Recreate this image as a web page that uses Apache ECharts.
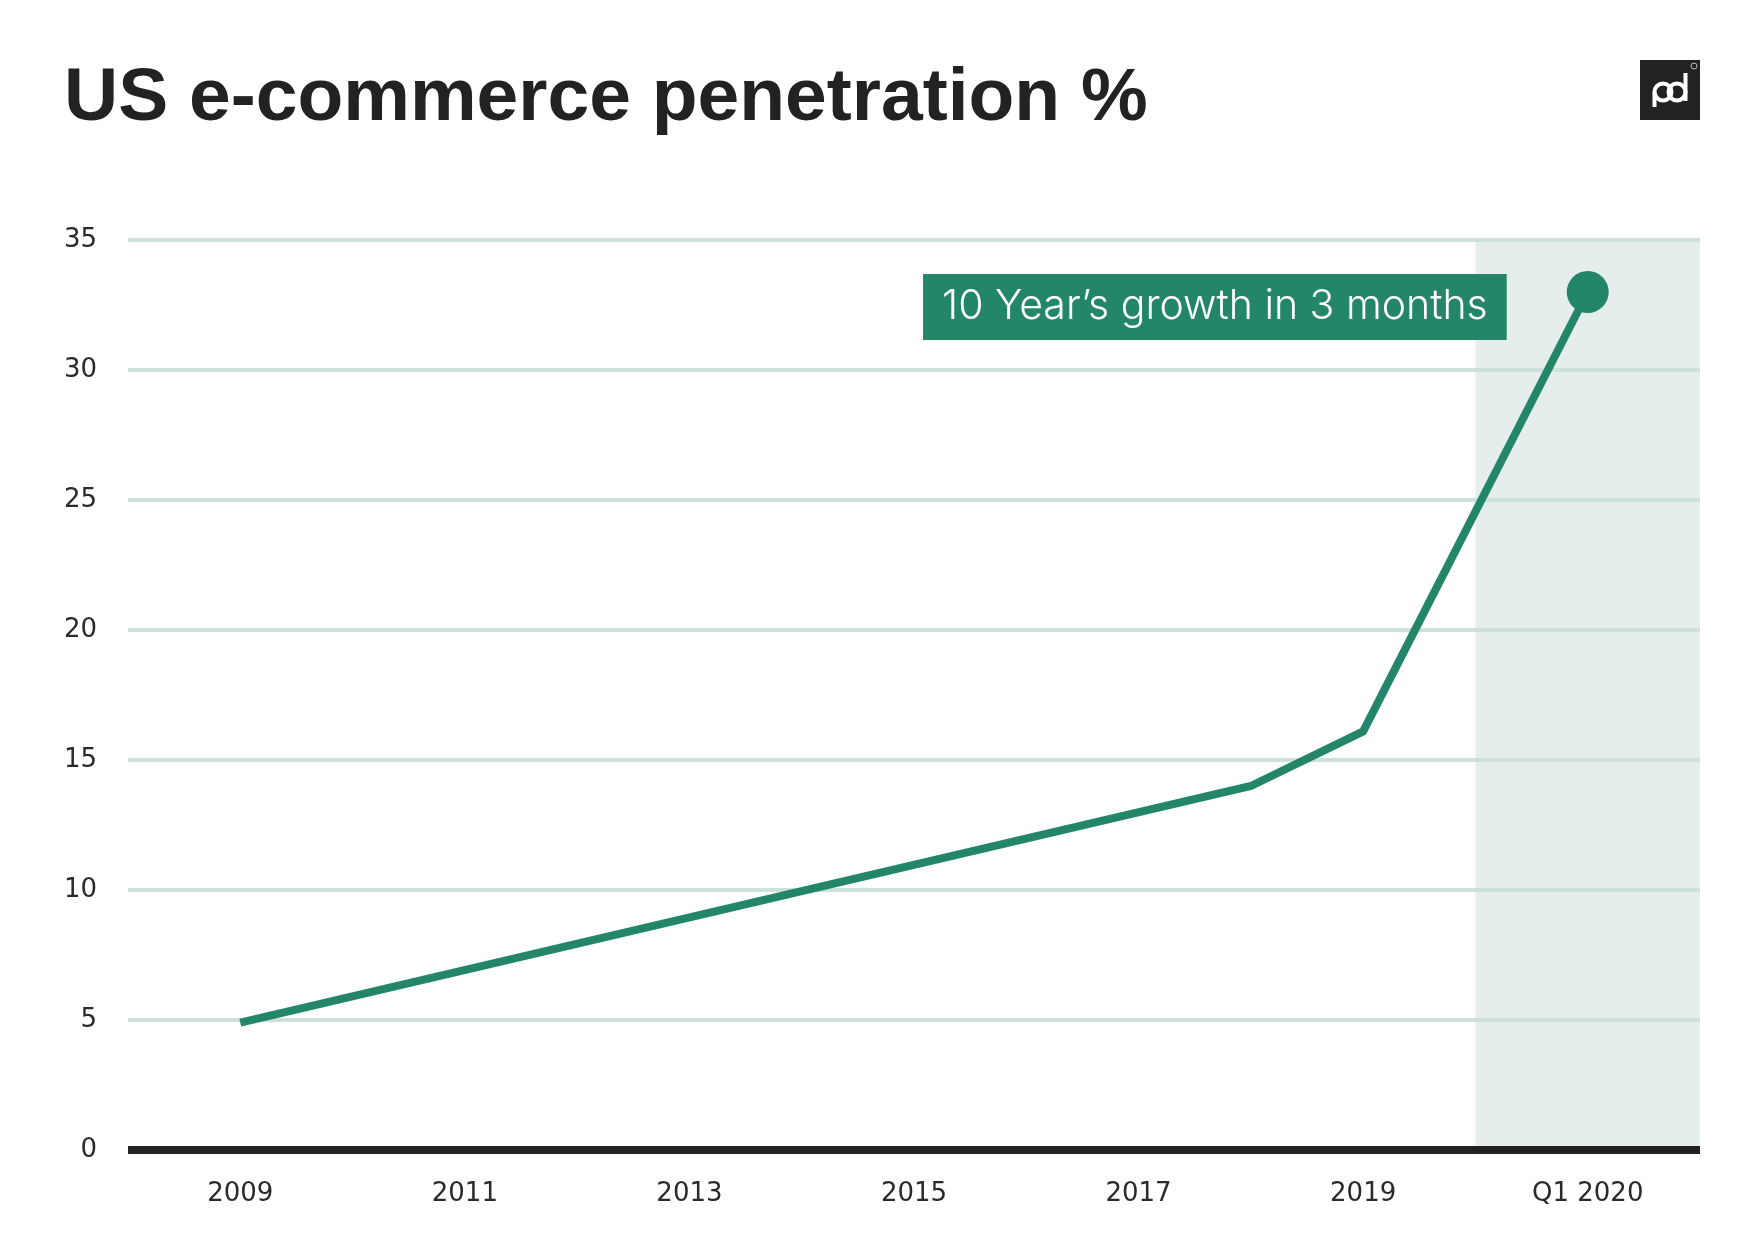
<!DOCTYPE html>
<html>
<head>
<meta charset="utf-8">
<title>US e-commerce penetration %</title>
<script src="https://cdn.jsdelivr.net/npm/echarts@6/dist/echarts.min.js"></script>
<style>
  html, body { margin: 0; padding: 0; background: #fff; }
  #chart { width: 1760px; height: 1260px; }
</style>
</head>
<body>
<div id="chart"></div>
<script>
// 数据：只保留折线上能看出的拐点
const periods = ['2009', '2018', '2019', 'Q1 2020']
const periodPos = [2009, 2018, 2019, 2021]   // 在年份轴上的位置，Q1 2020 占 2021 这一格
const penetration = [4.9, 14.0, 16.1, 33.0]

// x 轴刻度文字
const tickYears = [2009, 2011, 2013, 2015, 2017, 2019, 2021]
const tickLabels = ['2009', '2011', '2013', '2015', '2017', '2019', 'Q1 2020']

// 阴影区间（疫情季度）
const shadeFrom = 2020
const shadeTo = 2022

const NOTE = '10 Year’s growth in 3 months'

const GREEN = '#238668'
const GRID_COLOR = '#cee0db'
const TEXT_COLOR = '#2a2a2a'

const labelMap = {}
tickYears.forEach((y, i) => { labelMap[y] = tickLabels[i] })

const lastIdx = penetration.length - 1

// 最后一个点：大圆点 + 注释框
const noteLabel = {
  show: true,
  position: 'left',
  distance: 60,
  offset: [0, 15],
  formatter: NOTE,
  backgroundColor: GREEN,
  color: '#fff',
  fontFamily: 'Inter',
  fontWeight: 300,
  fontSize: 41,
  lineHeight: 40,
  padding: [13, 19]
}

const seriesData = periodPos.map((x, i) => {
  const item = { name: periods[i], value: [x, penetration[i]] }
  if (i === lastIdx) item.label = noteLabel
  return item
})

const chart = echarts.init(document.getElementById('chart'))

chart.setOption({
  backgroundColor: '#fff',
  animation: false,
  title: {
    text: 'US e-commerce penetration %',
    left: 59,
    top: 57,
    textStyle: {
      fontFamily: 'Liberation Sans',
      fontWeight: 'bold',
      fontSize: 75,
      color: '#222'
    }
  },
  grid: {
    left: 128,
    right: 60,
    top: 240,
    bottom: 110
  },
  xAxis: {
    type: 'value',
    min: 2008,
    max: 2022,
    interval: 1,
    z: 2,
    splitLine: { show: false },
    axisTick: { show: false },
    axisLine: {
      show: true,
      lineStyle: { color: '#222', width: 8, cap: 'butt' }
    },
    axisLabel: {
      margin: 31,
      fontFamily: 'DejaVu Sans',
      fontSize: 26,
      color: TEXT_COLOR,
      formatter: (v) => labelMap[v] || ''
    }
  },
  yAxis: {
    type: 'value',
    min: 0,
    max: 35,
    interval: 5,
    z: 2,
    axisLine: { show: false },
    axisTick: { show: false },
    axisLabel: {
      margin: 31,
      fontFamily: 'DejaVu Sans',
      fontSize: 26,
      color: TEXT_COLOR
    },
    splitLine: {
      lineStyle: { color: GRID_COLOR, width: 4 }
    }
  },
  series: [{
    type: 'line',
    data: seriesData,
    showSymbol: true,
    symbol: 'circle',
    symbolSize: (val, params) => params.dataIndex === lastIdx ? 42 : 0,
    lineStyle: { color: GREEN, width: 8, cap: 'butt', join: 'miter' },
    itemStyle: { color: GREEN },
    markArea: {
      silent: true,
      z: 1,
      itemStyle: { color: '#e5eeec' },
      data: [[{ xAxis: shadeFrom }, { xAxis: shadeTo }]]
    },
    z: 3
  }],
  graphic: [{
    type: 'group',
    left: 1640,
    top: 60,
    children: [
      { type: 'rect', shape: { x: 0, y: 0, width: 60, height: 60 }, style: { fill: '#222' } },
      { type: 'circle', shape: { cx: 23, cy: 32, r: 8.5 }, style: { fill: null, stroke: '#fff', lineWidth: 4 } },
      { type: 'circle', shape: { cx: 37, cy: 32, r: 8.5 }, style: { fill: null, stroke: '#fff', lineWidth: 4 } },
      { type: 'line', shape: { x1: 14.5, y1: 32, x2: 14.5, y2: 47 }, style: { stroke: '#fff', lineWidth: 4 } },
      { type: 'line', shape: { x1: 45.5, y1: 13, x2: 45.5, y2: 41 }, style: { stroke: '#fff', lineWidth: 4 } },
      { type: 'circle', shape: { cx: 54, cy: 6, r: 3 }, style: { fill: null, stroke: '#bbb', lineWidth: 1 } }
    ]
  }]
})
</script>
</body>
</html>
